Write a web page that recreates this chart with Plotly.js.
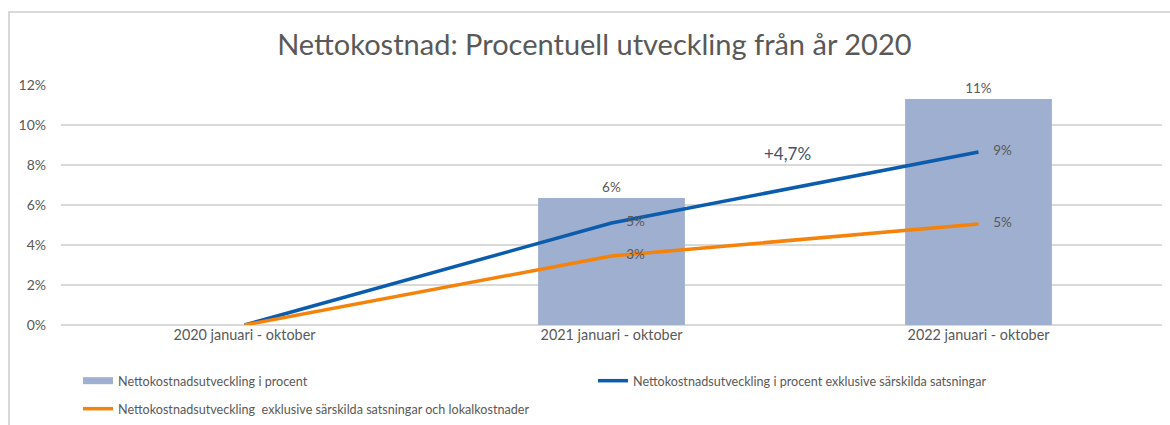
<!DOCTYPE html>
<html>
<head>
<meta charset="utf-8">
<script src="https://cdn.plot.ly/plotly-3.0.1.min.js"></script>
<style>
  html, body { margin: 0; padding: 0; background: #fff; }
  #wrap { position: relative; width: 1170px; height: 425px; overflow: hidden; }
  #chart { position: absolute; left: 0; top: 0; width: 1170px; height: 425px; }
  #frame { position: absolute; left: 8px; top: 11px; width: 1200px; height: 500px;
           border-left: 2px solid #d9d9d9; border-top: 2px solid #d9d9d9; pointer-events: none; }
</style>
</head>
<body>
<div id="wrap">
  <div id="chart"></div>
  <div id="frame"></div>
</div>
<script>
const categories = ['2020 januari - oktober', '2021 januari - oktober', '2022 januari - oktober'];
const barValues = [0, 6.35, 11.3];
const barLabels = ['', '6%', '11%'];
const blueValues = [0, 5.1, 8.65];
const blueLabels = ['', '5%', '9%'];
const orangeValues = [0, 3.45, 5.05];
const orangeLabels = ['', '3%', '5%'];
const seriesNames = [
  'Nettokostnadsutveckling i procent',
  'Nettokostnadsutveckling i procent exklusive särskilda satsningar',
  'Nettokostnadsutveckling  exklusive särskilda satsningar och lokalkostnader'
];
const diffLabel = '+4,7%';
const yTicks = [0, 2, 4, 6, 8, 10, 12];

const FONT = 'Lato, "Open Sans", sans-serif';
const GREY = '#595959';
const BAR = '#9eafcf';
const BLUE = '#0b5cad';
const ORANGE = '#f5820a';

const labelFont = { family: FONT, size: 13.5, color: GREY };

const traces = [
  {
    type: 'bar', x: categories, y: barValues, name: seriesNames[0], showlegend: false,
    marker: { color: BAR }, width: 0.4,
    text: barLabels, textposition: 'outside', cliponaxis: false,
    textfont: labelFont
  },
  {
    // legend entry for the bar series (wide rectangle swatch)
    type: 'scatter', mode: 'lines', x: [null], y: [null], name: seriesNames[0],
    line: { color: BAR, width: 7 }, legend: 'legend', hoverinfo: 'skip'
  },
  {
    type: 'scatter', mode: 'lines', x: categories, y: blueValues, name: seriesNames[1],
    line: { color: BLUE, width: 3.5 }, legend: 'legend'
  },
  {
    type: 'scatter', mode: 'lines', x: categories, y: orangeValues, name: seriesNames[2],
    line: { color: ORANGE, width: 3.5 }, legend: 'legend2'
  },
  {
    type: 'scatter', mode: 'markers+text', x: categories, y: blueValues, showlegend: false,
    marker: { size: 22, color: 'rgba(0,0,0,0)' },
    text: blueLabels, textposition: 'middle right', cliponaxis: false, textfont: labelFont
  },
  {
    type: 'scatter', mode: 'markers+text', x: categories, y: orangeValues, showlegend: false,
    marker: { size: 22, color: 'rgba(0,0,0,0)' },
    text: orangeLabels, textposition: 'middle right', cliponaxis: false, textfont: labelFont
  }
];

const legendBase = {
  orientation: 'h', xref: 'container', xanchor: 'left', yref: 'container', yanchor: 'middle',
  entrywidth: 470, entrywidthmode: 'pixels', traceorder: 'normal',
  font: { family: FONT, size: 12.6, color: GREY }, bgcolor: 'rgba(0,0,0,0)'
};

const layout = {
  width: 1170, height: 425,
  margin: { l: 61, r: 8, t: 85, b: 100 },
  paper_bgcolor: 'rgba(0,0,0,0)', plot_bgcolor: '#fff',
  font: { family: FONT, color: GREY, size: 13 },
  title: {
    text: 'Nettokostnad: Procentuell utveckling från år 2020',
    font: { family: FONT, size: 29, color: GREY },
    x: 0.508, xanchor: 'center', y: 1 - 45 / 425, yanchor: 'middle', yref: 'container'
  },
  showlegend: true,
  legend: Object.assign({}, legendBase, { x: 78 / 1170, y: 1 - 381 / 425 }),
  legend2: Object.assign({}, legendBase, { x: 78 / 1170, y: 1 - 409 / 425 }),
  xaxis: {
    type: 'category', showgrid: false, zeroline: false, showline: false, ticks: '',
    tickfont: { family: FONT, size: 14.4, color: GREY }, fixedrange: true, automargin: false
  },
  yaxis: {
    range: [0, 12], tickvals: yTicks, ticktext: yTicks.map(v => v + '%'),
    showgrid: true, gridcolor: '#d9d9d9', gridwidth: 1.5, zeroline: true, zerolinecolor: '#d9d9d9', zerolinewidth: 1.5,
    showline: false, ticks: '', ticklabelstandoff: 14, automargin: false,
    tickfont: { family: FONT, size: 14, color: GREY }, fixedrange: true
  },
  annotations: [
    { x: 1.48, y: 8.6, xref: 'x', yref: 'y', text: diffLabel, showarrow: false,
      font: { family: FONT, size: 17, color: '#44546a' } }
  ],
  bargap: 0.6
};

Plotly.newPlot('chart', traces, layout, { displayModeBar: false, staticPlot: true });
</script>
</body>
</html>
